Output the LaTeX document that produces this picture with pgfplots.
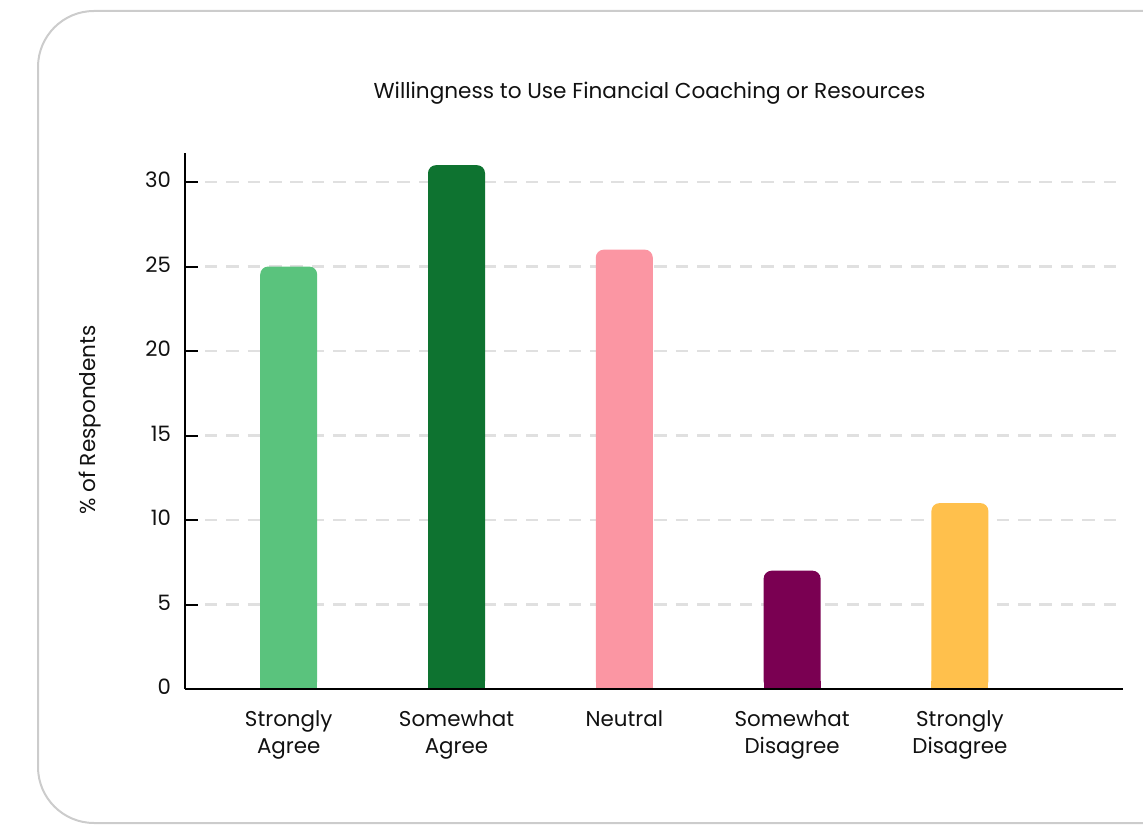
\documentclass[border=0pt]{standalone}
\usepackage{fontspec}
\setmainfont{Poppins}
\usepackage{pgfplots}
\pgfplotsset{compat=1.18}
\definecolor{c1}{HTML}{5AC37D}
\definecolor{c2}{HTML}{0E7330}
\definecolor{c3}{HTML}{FB96A3}
\definecolor{c4}{HTML}{7A0052}
\definecolor{c5}{HTML}{FFC04C}
\definecolor{gridc}{HTML}{E0E0E0}
\definecolor{cardc}{HTML}{CCCCCC}
\definecolor{txt}{HTML}{111111}
\begin{document}
\begin{tikzpicture}
\useasboundingbox (0,0) rectangle (571.5pt,412pt);
\begin{scope}
\clip (0,0) rectangle (571.5pt,412pt);
\draw[cardc, line width=1pt, rounded corners=28pt] (19pt,0.5pt) rectangle (640pt,406.5pt);
\end{scope}
\node[txt, font=\fontsize{10.8}{13}\selectfont] at (324.75pt,365.5pt) {Willingness to Use Financial Coaching or Resources};
\node[txt, rotate=90, font=\fontsize{10.8}{13}\selectfont] at (45pt,202pt) {\% of Respondents};
\begin{axis}[
 at={(92.5pt,67.5pt)}, anchor=south west,
 scale only axis, width=469pt, height=268pt,
 xmin=-0.618, xmax=4.972, ymin=0, ymax=31.72,
 axis x line*=bottom, axis y line*=left,
 axis line style={line width=1pt, black, -},
 axis on top,
 xtick={0,1,2,3,4},
 xticklabels={{Strongly\\Agree},{Somewhat\\Agree},{Neutral},{Somewhat\\Disagree},{Strongly\\Disagree}},
 xticklabel style={align=center, font=\fontsize{10.7}{13.5}\selectfont, text=txt, anchor=north, yshift=-7.5pt},
 x tick style={draw=none},
 ytick={0,5,10,15,20,25,30},
 yticklabel style={font=\fontsize{10.6}{12}\selectfont, text=txt, xshift=-3.5pt, yshift=1pt},
 /pgf/number format/assume math mode=true,
 tick align=inside, major tick length=6.5pt,
 y tick style={line width=1pt, black},
]
\addplot[gridc, line width=1.3pt, dash pattern=on 6.3pt off 4.4pt, forget plot] coordinates {(-0.5,5) (4.93,5)};
\addplot[gridc, line width=1.3pt, dash pattern=on 6.3pt off 4.4pt, forget plot] coordinates {(-0.5,10) (4.93,10)};
\addplot[gridc, line width=1.3pt, dash pattern=on 6.3pt off 4.4pt, forget plot] coordinates {(-0.5,15) (4.93,15)};
\addplot[gridc, line width=1.3pt, dash pattern=on 6.3pt off 4.4pt, forget plot] coordinates {(-0.5,20) (4.93,20)};
\addplot[gridc, line width=1.3pt, dash pattern=on 6.3pt off 4.4pt, forget plot] coordinates {(-0.5,25) (4.93,25)};
\addplot[gridc, line width=1.3pt, dash pattern=on 6.3pt off 4.4pt, forget plot] coordinates {(-0.5,30) (4.93,30)};
\addplot[ybar, bar width=28.5pt, bar shift=0pt, fill=c1, draw=none, y filter/.expression={min(y,0.5)}] coordinates {(0,25)};
\addplot[ybar, bar width=28.5pt, bar shift=0pt, fill=c1, draw=none, rounded corners=4pt] coordinates {(0,25)};
\addplot[ybar, bar width=28.5pt, bar shift=0pt, fill=c2, draw=none, y filter/.expression={min(y,0.5)}] coordinates {(1,31)};
\addplot[ybar, bar width=28.5pt, bar shift=0pt, fill=c2, draw=none, rounded corners=4pt] coordinates {(1,31)};
\addplot[ybar, bar width=28.5pt, bar shift=0pt, fill=c3, draw=none, y filter/.expression={min(y,0.5)}] coordinates {(2,26)};
\addplot[ybar, bar width=28.5pt, bar shift=0pt, fill=c3, draw=none, rounded corners=4pt] coordinates {(2,26)};
\addplot[ybar, bar width=28.5pt, bar shift=0pt, fill=c4, draw=none, y filter/.expression={min(y,0.5)}] coordinates {(3,7)};
\addplot[ybar, bar width=28.5pt, bar shift=0pt, fill=c4, draw=none, rounded corners=4pt] coordinates {(3,7)};
\addplot[ybar, bar width=28.5pt, bar shift=0pt, fill=c5, draw=none, y filter/.expression={min(y,0.5)}] coordinates {(4,11)};
\addplot[ybar, bar width=28.5pt, bar shift=0pt, fill=c5, draw=none, rounded corners=4pt] coordinates {(4,11)};
\end{axis}
\end{tikzpicture}
\end{document}
